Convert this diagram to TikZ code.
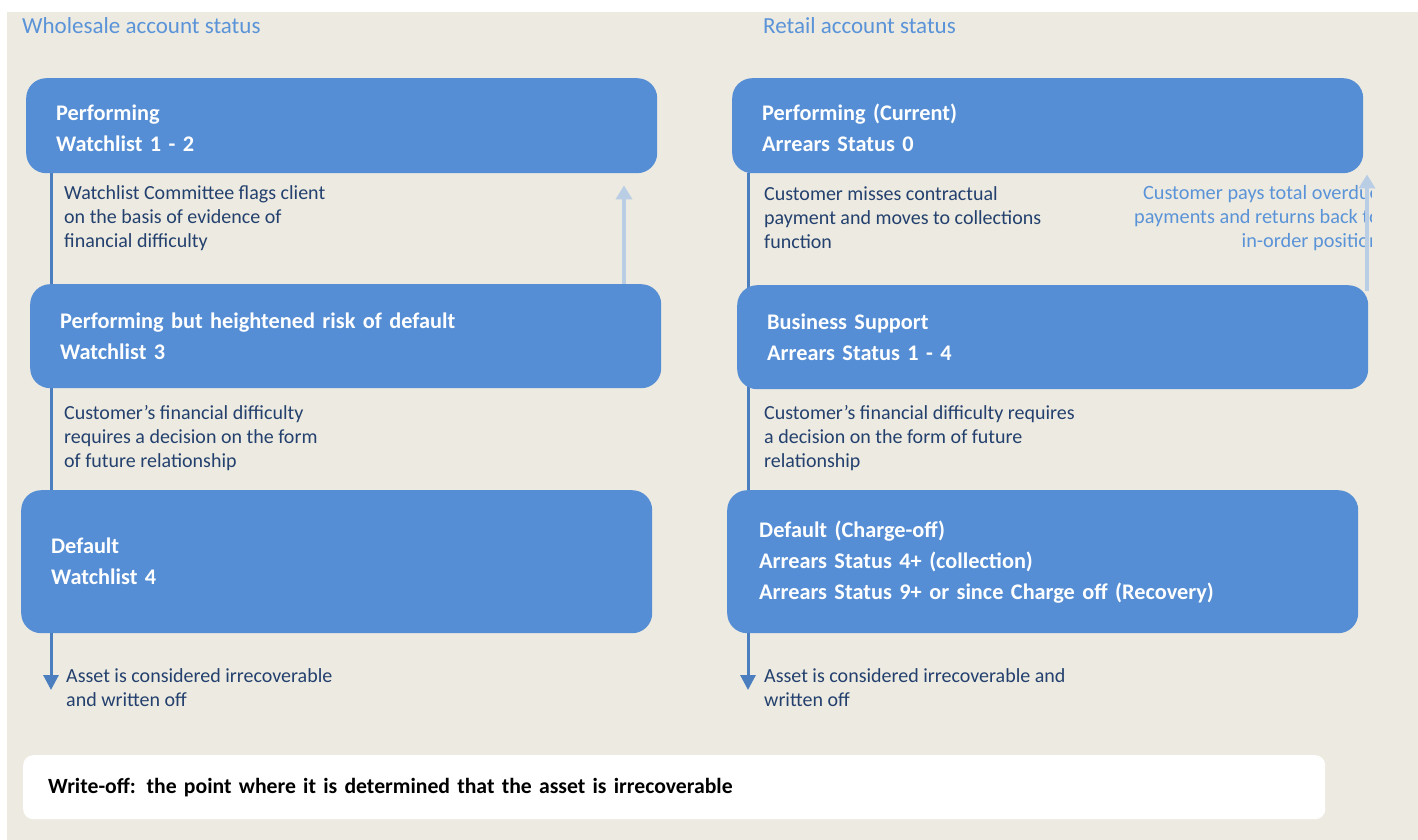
\documentclass[tikz,border=0pt]{standalone}
\usepackage{fontspec}
\setmainfont{Carlito}
\usepackage{tikz}
\usetikzlibrary{arrows.meta}
\usepackage{xcolor}
\definecolor{bgbeige}{HTML}{EDEBE1}
\definecolor{boxblue}{HTML}{558ED5}
\definecolor{trunkblue}{HTML}{4A7EBF}
\definecolor{paleblue}{HTML}{B9CDE5}
\definecolor{notenavy}{HTML}{23406E}
\definecolor{headblue}{HTML}{5A93D8}
\pgfdeclarelayer{back}
\pgfdeclarelayer{mid}
\pgfsetlayers{back,mid,main}

\begin{document}
\begin{tikzpicture}[x=1pt,y=-1pt,line cap=butt,
  statusbox/.style={fill=boxblue,rounded corners=20pt,text=white,anchor=north west,
    minimum width=631pt,text width=571pt,inner xsep=30pt,inner ysep=0pt,align=left,
    font=\fontsize{22.3}{31}\selectfont\bfseries},
  note/.style={text=notenavy,anchor=base west,inner sep=0pt,align=left,
    font=\fontsize{20}{24}\selectfont},
  paynote/.style={text=headblue,anchor=base east,inner sep=0pt,align=right,
    font=\fontsize{20.3}{24}\selectfont},
  head/.style={text=headblue,anchor=base west,inner sep=0pt,
    font=\fontsize{23}{26}\selectfont},
  trunk/.style={trunkblue,line width=3pt},
  backarrow/.style={paleblue,line width=4pt,-{Triangle[width=16pt,length=14pt]}}]
\useasboundingbox (0,0) rectangle (1418,840);
\begin{pgfonlayer}{back}
\fill[bgbeige] (7,12) rectangle (1418,840);
\end{pgfonlayer}

\node[head] (whead) at (22,34) {Wholesale account status};
\node[head] (rhead) at (763,34) {Retail account status};

\node[statusbox,minimum height=95pt,text depth=26pt] (W1) at (26,78) {Performing\\Watchlist 1 - 2};
\node[statusbox,minimum height=104pt] (W2) at (30,284) {Performing but heightened risk of default\\Watchlist 3};
\node[statusbox,minimum height=143pt] (W3) at (21,490) {Default\\Watchlist 4};

\node[statusbox,minimum height=95pt,text depth=26pt] (R1) at (732,78) {Performing (Current)\\Arrears Status 0};
\node[statusbox,minimum height=104pt] (R2) at (737,285) {Business Support\\Arrears Status 1 - 4};
\node[statusbox,minimum height=143pt,inner xsep=32pt,text width=567pt] (R3) at (727,490) {Default (Charge-off)\\Arrears Status 4+ (collection)\\Arrears Status 9+ or since Charge off (Recovery)};

\node[note] (wn1) at (64,247) {Watchlist Committee flags client\\on the basis of evidence of\\financial difficulty};
\node[note] (wn2) at (64,467) {Customer’s financial difficulty\\requires a decision on the form\\of future relationship};
\node[note] (wn3) at (66,706) {Asset is considered irrecoverable\\and written off};

\node[note] (rn1) at (764,248) {Customer misses contractual\\payment and moves to collections\\function};
\node[note] (rn2) at (764,467) {Customer’s financial difficulty requires\\a decision on the form of future\\relationship};
\node[note] (rn3) at (764,706) {Asset is considered irrecoverable and\\written off};
\begin{scope}
\clip (1100,176) rectangle (1371,262);
\node[paynote] (pays) at (1380,247) {Customer pays total overdue\\payments and returns back to\\in-order position};
\end{scope}

\coordinate (wl) at (51,0);
\coordinate (wend) at (51,690);
\coordinate (rl) at (748,0);
\coordinate (rend) at (748,690);
\coordinate (wup) at (624,0);
\coordinate (rup) at (1367,0);

\begin{pgfonlayer}{mid}
\draw[trunk] (W1.south -| wl) -- (W3.north -| wl);
\draw[trunk] (R1.south -| rl) -- (R3.north -| rl);
\end{pgfonlayer}
\draw[trunk,-{Triangle[width=15pt,length=15pt]}] (W3.south -| wl) -- (wend);
\draw[trunk,-{Triangle[width=15pt,length=15pt]}] (R3.south -| rl) -- (rend);

\draw[backarrow,shorten >=12pt] (W2.north -| wup) -- (W1.south -| wup);
\draw[backarrow,shorten >=1pt] ([yshift=-6pt]R2.north -| rup) -- (R1.south -| rup);

\node[fill=white,rounded corners=10pt,anchor=north west,minimum width=1302pt,
  minimum height=64pt,text width=1252pt,inner xsep=25pt,inner ysep=0pt,align=left,
  font=\fontsize{21.7}{24}\selectfont\bfseries] (wo) at (23,755)
  {Write-off: the point where it is determined that the asset is irrecoverable};
\end{tikzpicture}
\end{document}
